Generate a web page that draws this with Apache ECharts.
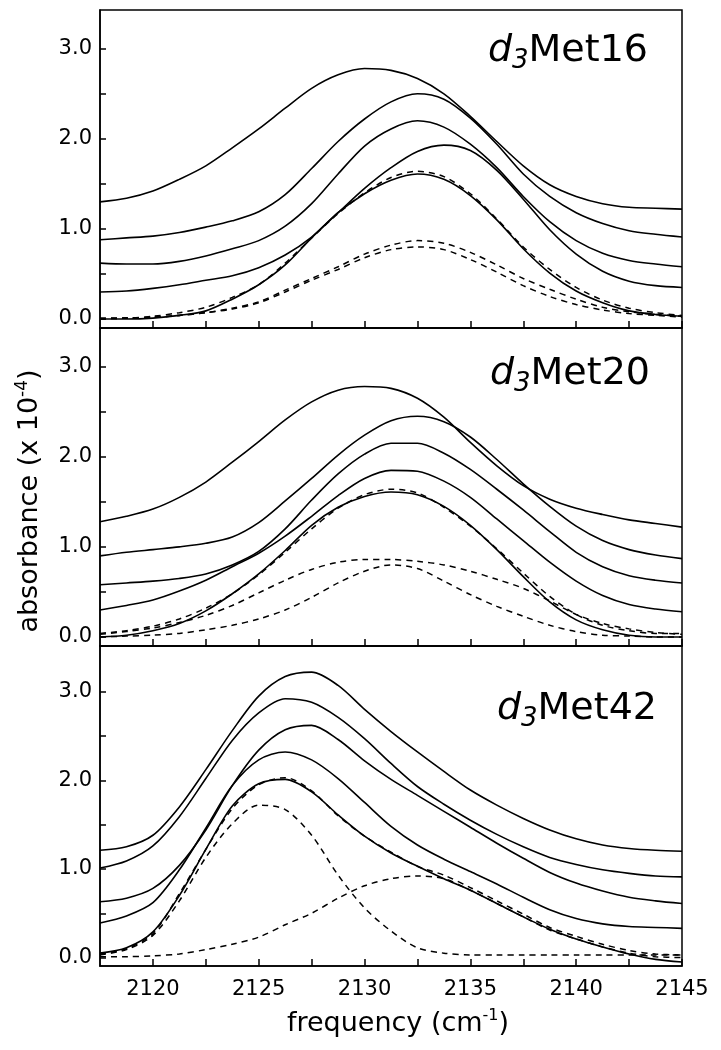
<!DOCTYPE html>
<html><head><meta charset="utf-8">
<script src="https://cdn.jsdelivr.net/npm/echarts@6/dist/echarts.min.js"></script>
<style>html,body{margin:0;padding:0;background:#fff}#c{width:721px;height:1050px}</style>
</head><body><div id="c"></div><script>
// frequency grid (cm^-1)
const freq = [2117.5,2118.75,2120,2121.25,2122.5,2123.75,2125,2126.25,2127.5,2128.75,2130,2131.25,2132.5,2133.75,2135,2136.25,2137.5,2138.75,2140,2141.25,2142.5,2143.75,2145];

// tick values
const xTickVals = [2120,2122.5,2125,2127.5,2130,2132.5,2135,2137.5,2140,2142.5,2145];
const xLabelVals = [2120,2125,2130,2135,2140,2145];
const yTickVals = [0,0.5,1,1.5,2,2.5,3];
const yLabelVals = [0,1,2,3];

// panel labels
const panelNames = ['Met16','Met20','Met42'];

// d3Met16
const m16_a = [1.30,1.34,1.42,1.55,1.70,1.90,2.11,2.34,2.56,2.71,2.78,2.76,2.67,2.50,2.25,1.97,1.70,1.49,1.36,1.28,1.24,1.23,1.22];
const m16_b = [0.88,0.90,0.92,0.96,1.02,1.09,1.19,1.38,1.67,1.97,2.22,2.41,2.50,2.44,2.23,1.94,1.61,1.36,1.18,1.06,0.98,0.94,0.91];
const m16_c = [0.62,0.61,0.61,0.64,0.70,0.78,0.87,1.03,1.28,1.61,1.92,2.11,2.20,2.13,1.94,1.68,1.36,1.08,0.87,0.73,0.65,0.61,0.58];
const m16_d = [0.30,0.31,0.34,0.38,0.43,0.48,0.57,0.71,0.91,1.18,1.45,1.68,1.86,1.93,1.87,1.65,1.33,0.99,0.72,0.53,0.42,0.37,0.35];
const m16_e = [0.00,0.00,0.01,0.04,0.09,0.22,0.38,0.60,0.90,1.18,1.39,1.54,1.61,1.55,1.37,1.10,0.78,0.51,0.31,0.18,0.09,0.05,0.03];
const m16_fit = [0.01,0.01,0.03,0.07,0.13,0.24,0.38,0.62,0.90,1.17,1.40,1.57,1.64,1.58,1.39,1.11,0.80,0.55,0.35,0.21,0.12,0.07,0.04];
const m16_c1 = [0.00,0.01,0.02,0.04,0.07,0.12,0.19,0.32,0.45,0.58,0.72,0.82,0.87,0.84,0.74,0.60,0.45,0.33,0.22,0.13,0.08,0.05,0.03];
const m16_c2 = [0.00,0.01,0.02,0.04,0.07,0.11,0.18,0.30,0.43,0.55,0.68,0.77,0.80,0.77,0.66,0.52,0.37,0.25,0.16,0.10,0.06,0.04,0.02];

// d3Met20
const m20_a = [1.28,1.34,1.42,1.55,1.72,1.94,2.17,2.41,2.61,2.74,2.78,2.76,2.65,2.44,2.16,1.90,1.68,1.53,1.43,1.36,1.30,1.26,1.22];
const m20_b = [0.90,0.94,0.97,1.00,1.04,1.11,1.27,1.51,1.76,2.02,2.24,2.40,2.45,2.39,2.22,1.97,1.70,1.45,1.23,1.07,0.97,0.91,0.87];
const m20_c = [0.58,0.60,0.62,0.65,0.70,0.80,0.95,1.20,1.52,1.81,2.03,2.15,2.15,2.04,1.86,1.64,1.41,1.17,0.94,0.78,0.68,0.63,0.60];
const m20_d = [0.30,0.35,0.41,0.51,0.63,0.78,0.93,1.12,1.34,1.57,1.76,1.85,1.84,1.73,1.55,1.31,1.07,0.83,0.62,0.46,0.36,0.31,0.28];
const m20_e = [0.00,0.02,0.07,0.15,0.29,0.48,0.70,0.96,1.24,1.44,1.56,1.61,1.58,1.45,1.24,0.97,0.67,0.39,0.19,0.08,0.02,0.00,0.00];
const m20_fit = [0.04,0.07,0.12,0.20,0.32,0.48,0.69,0.94,1.20,1.43,1.58,1.64,1.60,1.44,1.23,0.98,0.71,0.45,0.25,0.13,0.07,0.04,0.04];
const m20_c1 = [0.03,0.06,0.10,0.16,0.24,0.35,0.49,0.63,0.75,0.83,0.86,0.86,0.84,0.80,0.73,0.64,0.54,0.40,0.25,0.15,0.09,0.05,0.03];
const m20_c2 = [0.00,0.01,0.02,0.04,0.08,0.13,0.20,0.30,0.44,0.60,0.73,0.80,0.76,0.62,0.47,0.34,0.23,0.13,0.06,0.02,0.01,0.00,0.00];

// d3Met42
const m42_a = [1.21,1.25,1.38,1.70,2.12,2.56,2.95,3.17,3.22,3.07,2.80,2.55,2.32,2.10,1.89,1.72,1.57,1.44,1.34,1.27,1.23,1.21,1.20];
const m42_b = [1.01,1.09,1.26,1.59,2.02,2.45,2.76,2.92,2.88,2.71,2.47,2.19,1.93,1.73,1.55,1.39,1.25,1.13,1.05,0.99,0.95,0.92,0.91];
const m42_c = [0.63,0.67,0.78,1.04,1.44,1.94,2.34,2.57,2.62,2.46,2.22,2.01,1.83,1.65,1.47,1.29,1.12,0.96,0.84,0.75,0.68,0.64,0.61];
const m42_d = [0.39,0.47,0.62,0.99,1.46,1.94,2.23,2.32,2.23,2.02,1.75,1.48,1.27,1.11,0.97,0.83,0.68,0.54,0.44,0.38,0.35,0.34,0.33];
const m42_e = [0.05,0.11,0.29,0.70,1.22,1.71,1.96,2.01,1.87,1.61,1.37,1.18,1.03,0.89,0.76,0.61,0.46,0.32,0.21,0.12,0.04,-0.02,-0.05];
const m42_fit = [0.04,0.10,0.27,0.72,1.22,1.68,1.95,2.03,1.88,1.60,1.37,1.19,1.03,0.93,0.79,0.64,0.49,0.34,0.24,0.15,0.08,0.04,0.03];
const m42_c1 = [0.03,0.09,0.25,0.64,1.13,1.51,1.72,1.67,1.38,0.93,0.56,0.30,0.11,0.05,0.03,0.03,0.03,0.03,0.03,0.03,0.03,0.03,0.03];
const m42_c2 = [0.01,0.01,0.02,0.04,0.09,0.15,0.23,0.37,0.50,0.67,0.81,0.89,0.92,0.89,0.76,0.61,0.46,0.31,0.21,0.12,0.05,0.01,0.00];

const panels = [
  {solid:[m16_a,m16_b,m16_c,m16_d,m16_e], dashed:[m16_fit,m16_c1,m16_c2]},
  {solid:[m20_a,m20_b,m20_c,m20_d,m20_e], dashed:[m20_fit,m20_c1,m20_c2]},
  {solid:[m42_a,m42_b,m42_c,m42_d,m42_e], dashed:[m42_fit,m42_c1,m42_c2]}
];

const FONT = 'DejaVu Sans';
const gridDefs = [
  {left:100, width:582, top:10, height:318},
  {left:100, width:582, top:328, height:318},
  {left:100, width:582, top:646, height:320}
];
const yRanges = [[-0.1,3.43],[-0.1,3.43],[-0.095,3.515]];
const labelTops = [28, 351, 686];
const labelRights = [73, 71, 64];

const chart = echarts.init(document.getElementById('c'), null, {renderer:'canvas'});
const grid = gridDefs.map(g => Object.assign({show:true, borderColor:'#000', borderWidth:1.5, backgroundColor:'transparent'}, g));

const xAxis = gridDefs.map((g,i) => ({
  type:'value', gridIndex:i, min:2117.5, max:2145,
  axisLine:{show:true, onZero:false, lineStyle:{color:'#000', width:1.5}},
  axisTick:{show:true, inside:true, length:7, lineStyle:{color:'#000', width:1.5}, customValues:xTickVals},
  axisLabel:{show:i===2, customValues:xLabelVals, color:'#000', fontFamily:FONT, fontSize:21, margin:13, formatter:v=>String(v)},
  splitLine:{show:false},
  name: i===2 ? '{t|frequency (cm}{s|-1}{t|)}' : '',
  nameLocation:'middle', nameGap:42,
  nameTextStyle:{padding:[0,0,0,14], rich:{
    t:{fontFamily:FONT, fontSize:27, color:'#000', lineHeight:32},
    s:{fontFamily:FONT, fontSize:16, color:'#000', lineHeight:16, verticalAlign:'top'}
  }}
}));

const yAxis = gridDefs.map((g,i) => ({
  type:'value', gridIndex:i, min:yRanges[i][0], max:yRanges[i][1],
  axisLine:{show:true, onZero:false, lineStyle:{color:'#000', width:1.5}},
  axisTick:{show:true, inside:true, length:6, lineStyle:{color:'#000', width:1.5}, customValues:yTickVals},
  axisLabel:{show:true, customValues:yLabelVals, color:'#000', fontFamily:FONT, fontSize:21, margin:8, formatter:v=>v.toFixed(1)},
  splitLine:{show:false},
  name: i===1 ? '{t|absorbance (x 10}{s|-4}{t|)}' : '',
  nameLocation:'middle', nameGap:54, nameRotate:90,
  nameTextStyle:{padding:[0,28,0,0], rich:{
    t:{fontFamily:FONT, fontSize:27, color:'#000', lineHeight:32},
    s:{fontFamily:FONT, fontSize:17, color:'#000', lineHeight:17, verticalAlign:'top'}
  }}
}));

const series = [];
panels.forEach((p,gi) => {
  p.solid.forEach(vals => series.push({
    type:'line', xAxisIndex:gi, yAxisIndex:gi, showSymbol:false, symbol:'none',
    smooth:0.3, silent:true,
    data: freq.map((f,k)=>[f, vals[k]]),
    lineStyle:{color:'#000', width:1.6, type:'solid'}
  }));
  p.dashed.forEach(vals => series.push({
    type:'line', xAxisIndex:gi, yAxisIndex:gi, showSymbol:false, symbol:'none',
    smooth:0.3, silent:true,
    data: freq.map((f,k)=>[f, vals[k]]),
    lineStyle:{color:'#000', width:1.5, type:[6,5]}
  }));
});

const title = panelNames.map((nm,i) => ({
  text:'{i|d}{s|3}{m|' + nm + '}', right:labelRights[i], top:labelTops[i], padding:0,
  textStyle:{fontWeight:'normal', rich:{
    i:{fontFamily:FONT, fontStyle:'italic', fontWeight:'normal', fontSize:38, lineHeight:46, color:'#000'},
    s:{fontFamily:FONT, fontStyle:'italic', fontWeight:'normal', fontSize:26, lineHeight:22, verticalAlign:'bottom', color:'#000'},
    m:{fontFamily:FONT, fontWeight:'normal', fontSize:38, lineHeight:46, color:'#000'}
  }}
}));

chart.setOption({animation:false, backgroundColor:'#fff', title, grid, xAxis, yAxis, series});
</script></body></html>
